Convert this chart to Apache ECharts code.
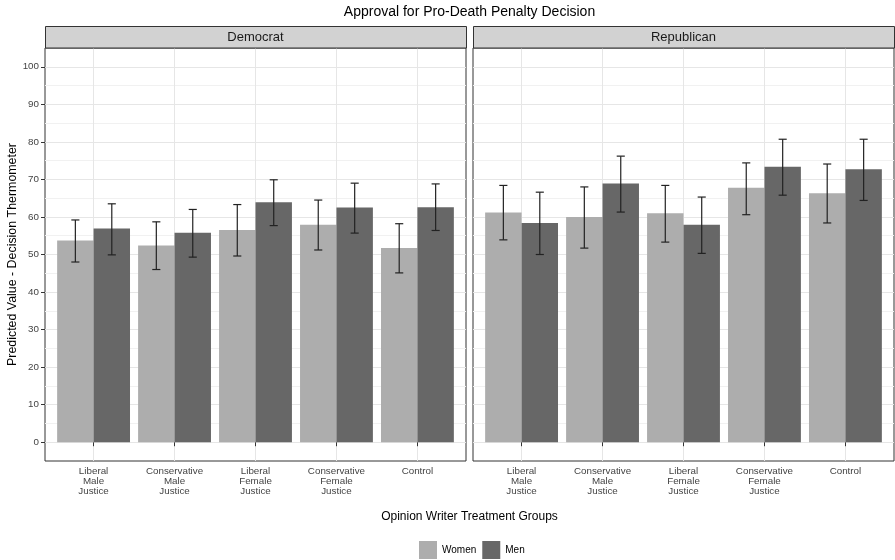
<!DOCTYPE html>
<html><head><meta charset="utf-8">
<script src="https://cdn.jsdelivr.net/npm/echarts@6/dist/echarts.min.js"></script>
<style>html,body{margin:0;padding:0;background:#fff}#c{width:895px;height:560px}</style>
</head><body><div id="c"></div>
<script>
const categories = ['Liberal\nMale\nJustice', 'Conservative\nMale\nJustice', 'Liberal\nFemale\nJustice', 'Conservative\nFemale\nJustice', 'Control'];
const xPositions = [1, 2, 3, 4, 5];
const yTicks = [0, 10, 20, 30, 40, 50, 60, 70, 80, 90, 100];
const yMinorTicks = [5, 15, 25, 35, 45, 55, 65, 75, 85, 95];
const panels = ['Democrat', 'Republican'];
const groups = ['Women', 'Men'];

const demWomen   = [53.7, 52.4, 56.5, 57.9, 51.7];
const demWomenLo = [48.0, 46.0, 49.6, 51.2, 45.1];
const demWomenHi = [59.2, 58.7, 63.3, 64.5, 58.2];
const demMen     = [56.9, 55.8, 63.9, 62.5, 62.6];
const demMenLo   = [49.9, 49.3, 57.7, 55.7, 56.4];
const demMenHi   = [63.5, 62.0, 69.9, 69.0, 68.8];

const repWomen   = [61.2, 60.0, 61.0, 67.8, 66.3];
const repWomenLo = [53.9, 51.7, 53.3, 60.6, 58.4];
const repWomenHi = [68.4, 68.0, 68.4, 74.4, 74.1];
const repMen     = [58.4, 68.9, 57.9, 73.4, 72.7];
const repMenLo   = [50.0, 61.3, 50.3, 65.8, 64.4];
const repMenHi   = [66.6, 76.2, 65.3, 80.7, 80.7];

const FONT = '"Liberation Sans", Arial, Helvetica, sans-serif';
const colors = { Women: '#adadad', Men: '#676767' };
const panelData = [
  { Women: [demWomen, demWomenLo, demWomenHi], Men: [demMen, demMenLo, demMenHi] },
  { Women: [repWomen, repWomenLo, repWomenHi], Men: [repMen, repMenLo, repMenHi] }
];
const gridBoxes = [
  { left: 45, top: 48, width: 421, height: 413 },
  { left: 473, top: 48, width: 421, height: 413 }
];

const chart = echarts.init(document.getElementById('c'), null, { renderer: 'canvas' });

const grid = gridBoxes.map(b => ({
  left: b.left, top: b.top, width: b.width, height: b.height,
  show: true, borderColor: '#333333', borderWidth: 1, backgroundColor: 'transparent'
}));

const xAxis = gridBoxes.map((b, i) => ({
  type: 'value', gridIndex: i, min: 0.4, max: 5.6,
  axisLine: { show: false },
  axisTick: { show: true, customValues: xPositions, length: 4, lineStyle: { color: '#333333' } },
  axisLabel: {
    customValues: xPositions,
    formatter: v => categories[Math.round(v) - 1] || '',
    fontSize: 9.8, lineHeight: 10, color: '#444444', margin: 5, fontFamily: FONT
  },
  splitLine: { show: true, lineStyle: { color: '#e6e6e6', width: 1 } }
}));

const yAxis = [];
gridBoxes.forEach((b, i) => {
  yAxis.push({
    type: 'value', gridIndex: i, min: -5, max: 105,
    name: i === 0 ? 'Predicted Value - Decision Thermometer' : '',
    nameLocation: 'middle', nameGap: 26,
    nameTextStyle: { fontSize: 12.4, color: '#000', fontFamily: FONT },
    axisLine: { show: false },
    axisTick: { show: i === 0, customValues: yTicks, length: 4, lineStyle: { color: '#333333' } },
    axisLabel: { show: i === 0, customValues: yTicks, fontSize: 9.8, color: '#444444', margin: 6, fontFamily: FONT },
    splitLine: { show: true, lineStyle: { color: '#e6e6e6', width: 1 } }
  });
  yAxis.push({
    type: 'value', gridIndex: i, min: -5, max: 105, position: 'left',
    axisLine: { show: false },
    axisTick: { show: false, customValues: yMinorTicks },
    axisLabel: { show: false },
    splitLine: { show: true, lineStyle: { color: '#f1f1f1', width: 1 } }
  });
});

const series = [];
panelData.forEach((pd, p) => {
  groups.forEach((g) => {
    const [vals] = pd[g];
    series.push({
      type: 'bar', name: g, xAxisIndex: p, yAxisIndex: 2 * p,
      data: vals.map((v, i) => [xPositions[i], v]),
      barGap: '0%', barCategoryGap: '10%',
      itemStyle: { color: colors[g] }, z: 2
    });
  });
  groups.forEach((g, gi) => {
    const [, lo, hi] = pd[g];
    const offset = gi === 0 ? -0.225 : 0.225;
    series.push({
      type: 'custom', name: g + ' CI', xAxisIndex: p, yAxisIndex: 2 * p, z: 5,
      data: lo.map((l, i) => [xPositions[i], l, hi[i]]),
      renderItem: (params, api) => {
        const x = api.value(0) + offset;
        const l = api.value(1), h = api.value(2);
        const pl = api.coord([x, l]), ph = api.coord([x, h]);
        const al = api.coord([x - 0.05, l]), bl = api.coord([x + 0.05, l]);
        const ah = api.coord([x - 0.05, h]), bh = api.coord([x + 0.05, h]);
        const st = { stroke: '#222222', lineWidth: 1.2 };
        return {
          type: 'group',
          children: [
            { type: 'line', shape: { x1: pl[0], y1: pl[1], x2: ph[0], y2: ph[1] }, style: st },
            { type: 'line', shape: { x1: al[0], y1: al[1], x2: bl[0], y2: bl[1] }, style: st },
            { type: 'line', shape: { x1: ah[0], y1: ah[1], x2: bh[0], y2: bh[1] }, style: st }
          ]
        };
      }
    });
  });
});

const stripGraphics = gridBoxes.map(b => ({
  type: 'rect', z: 1,
  shape: { x: b.left + 0.5, y: 26.5, width: b.width, height: 21.5 },
  style: { fill: '#d2d2d2', stroke: '#333333', lineWidth: 1 }
}));

chart.setOption({
  animation: false,
  backgroundColor: '#ffffff',
  title: [
    { text: 'Approval for Pro-Death Penalty Decision', left: 469.5, top: 5.5, padding: 0, textAlign: 'center',
      textStyle: { fontSize: 14, fontWeight: 'normal', color: '#000', fontFamily: FONT } },
    { text: panels[0], left: 255.5, top: 30.5, padding: 0, textAlign: 'center', z: 10,
      textStyle: { fontSize: 13, fontWeight: 'normal', color: '#1a1a1a', fontFamily: FONT } },
    { text: panels[1], left: 683.5, top: 30.5, padding: 0, textAlign: 'center', z: 10,
      textStyle: { fontSize: 13, fontWeight: 'normal', color: '#1a1a1a', fontFamily: FONT } },
    { text: 'Opinion Writer Treatment Groups', left: 469.5, top: 510.5, padding: 0, textAlign: 'center',
      textStyle: { fontSize: 12, fontWeight: 'normal', color: '#000', fontFamily: FONT } }
  ],
  legend: {
    data: groups, left: 419, top: 541, padding: 0,
    icon: 'rect', itemWidth: 18, itemHeight: 18, itemGap: 6,
    textStyle: { fontSize: 10, color: '#000', fontFamily: FONT }
  },
  graphic: stripGraphics,
  grid, xAxis, yAxis, series
});
</script>
</body></html>
